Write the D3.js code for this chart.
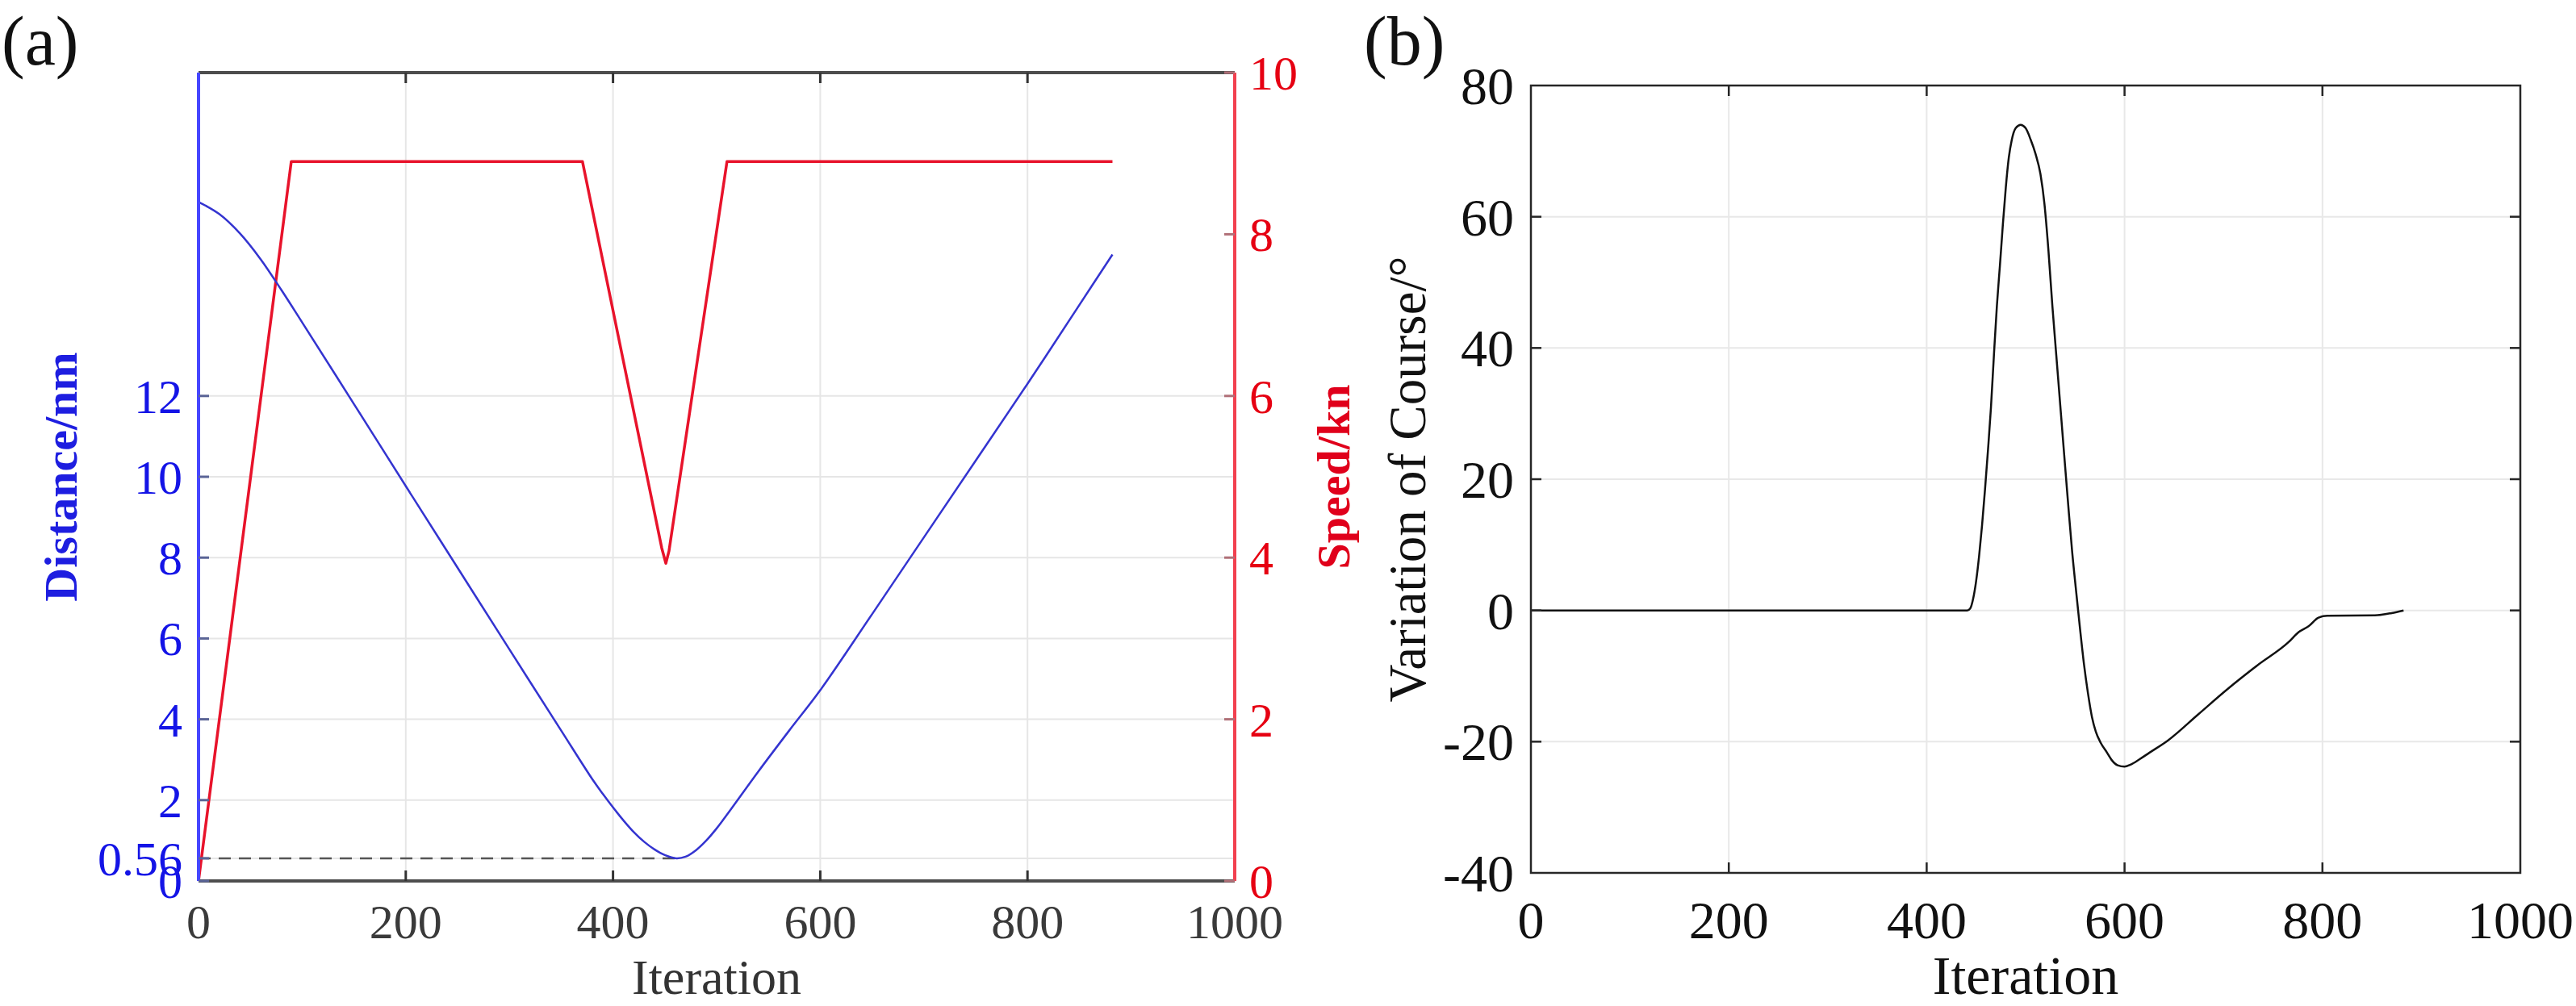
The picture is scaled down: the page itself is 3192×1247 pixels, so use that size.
<!DOCTYPE html>
<html>
<head>
<meta charset="utf-8">
<script src="https://cdn.jsdelivr.net/npm/d3@7"></script>
<style>
  body { margin: 0; background: #fff; }
  svg text { font-family: "Liberation Serif", "Times New Roman", serif; }
</style>
</head>
<body>
<svg id="fig" width="3192" height="1247"></svg>
<script>
// ---- panel (a) data ----
var distIter = [0, 20, 40, 60, 80, 100, 150, 200, 250, 300, 350, 380, 390, 400, 410, 420, 430, 440, 450, 461, 470, 480, 490, 500, 510, 540, 570, 600, 650, 700, 750, 800, 850, 882];
var distVal  = [16.8, 16.5, 16.02, 15.38, 14.62, 13.82, 11.8, 9.77, 7.75, 5.73, 3.72, 2.52, 2.16, 1.82, 1.5, 1.21, 0.97, 0.78, 0.64, 0.56, 0.6, 0.76, 1.0, 1.3, 1.64, 2.7, 3.72, 4.72, 6.6, 8.5, 10.4, 12.3, 14.25, 15.5];
var speedIter = [0, 89.5, 370.5, 447, 451, 454, 510, 882];
var speedVal  = [0, 8.9, 8.9, 4.12, 3.93, 4.08, 8.9, 8.9];
var minDist = 0.56;
var minDistIter = 461;
var distTicks = [0, 0.56, 2, 4, 6, 8, 10, 12];
var speedTicks = [0, 2, 4, 6, 8, 10];
var iterTicks = [0, 200, 400, 600, 800, 1000];

// ---- panel (b) data ----
var courseIter = [0, 200, 400, 441, 444, 447, 450, 453, 456, 459, 462, 465, 468, 471, 474, 477, 480, 483, 486, 490, 495, 500, 505, 510, 515, 519, 523, 527, 531, 535, 539, 543, 547, 551, 555, 559, 563, 567, 571, 576, 582, 587, 593, 600, 606, 615, 625, 644, 674, 704, 734, 766, 776, 786, 796, 805, 853, 870, 882];
var courseVal  = [0, 0, 0, 0, 0.3, 1.8, 4.5, 8.3, 13, 18.5, 24.5, 31, 39, 46.5, 52.5, 58.8, 64.5, 69, 71.7, 73.5, 74.0, 73.5, 71.8, 69.6, 66.5, 62, 55, 46.5, 38.9, 31.3, 23.7, 16.2, 9.0, 3.0, -2.8, -8.2, -12.6, -16.2, -18.5, -20.2, -21.6, -22.8, -23.6, -23.8, -23.5, -22.7, -21.7, -19.8, -15.9, -12.0, -8.4, -4.8, -3.3, -2.4, -1.1, -0.8, -0.75, -0.4, 0];
var courseTicks = [-40, -20, 0, 20, 40, 60, 80];

var svg = d3.select('#fig');
var tickLen = 13;

function zipPts(xs, ys) {
    return xs.map(function (d, i) { return [d, ys[i]]; });
}

// =================== panel (a) ===================
var A = {left: 246, right: 1530, top: 90, bottom: 1092};
var xa = d3.scaleLinear().domain([0, 1000]).range([A.left, A.right]);
var yDist = d3.scaleLinear().domain([0, 20]).range([A.bottom, A.top]);
var ySpeed = d3.scaleLinear().domain([0, 10]).range([A.bottom, A.top]);

var ga = svg.append('g').attr('class', 'panel-a');

// grid
ga.append('g').selectAll('line.vgrid')
    .data(iterTicks.slice(1, -1)).enter().append('line')
    .attr('x1', function (d) { return xa(d); }).attr('x2', function (d) { return xa(d); })
    .attr('y1', A.top).attr('y2', A.bottom)
    .style('stroke', '#e6e6e6').style('stroke-width', 2);
ga.append('g').selectAll('line.hgrid')
    .data(distTicks.slice(1)).enter().append('line')
    .attr('x1', A.left).attr('x2', A.right)
    .attr('y1', function (d) { return yDist(d); }).attr('y2', function (d) { return yDist(d); })
    .style('stroke', '#e6e6e6').style('stroke-width', 2);

// min distance dashed line
ga.append('line')
    .attr('x1', xa(0)).attr('x2', xa(minDistIter))
    .attr('y1', yDist(minDist)).attr('y2', yDist(minDist))
    .style('stroke', '#555').style('stroke-width', 2.5).style('stroke-dasharray', '15,10');

// curves
var distLine = d3.line().x(function (d) { return xa(d[0]); }).y(function (d) { return yDist(d[1]); }).curve(d3.curveCatmullRom.alpha(0.5));
var speedLine = d3.line().x(function (d) { return xa(d[0]); }).y(function (d) { return ySpeed(d[1]); });

ga.append('path').datum(zipPts(speedIter, speedVal)).attr('d', speedLine)
    .style('fill', 'none').style('stroke', '#e8132b').style('stroke-width', 3.5).style('stroke-linejoin', 'round');
ga.append('path').datum(zipPts(distIter, distVal)).attr('d', distLine)
    .style('fill', 'none').style('stroke', '#3434d0').style('stroke-width', 2.5);

// top / bottom box lines with inward ticks
ga.append('line').attr('x1', A.left).attr('x2', A.right).attr('y1', A.top).attr('y2', A.top)
    .style('stroke', '#4d4d4d').style('stroke-width', 4);
ga.append('line').attr('x1', A.left).attr('x2', A.right).attr('y1', A.bottom).attr('y2', A.bottom)
    .style('stroke', '#4d4d4d').style('stroke-width', 4);
iterTicks.slice(1, -1).forEach(function (t) {
    ga.append('line').attr('x1', xa(t)).attr('x2', xa(t)).attr('y1', A.top).attr('y2', A.top + tickLen)
        .style('stroke', '#333').style('stroke-width', 3);
    ga.append('line').attr('x1', xa(t)).attr('x2', xa(t)).attr('y1', A.bottom).attr('y2', A.bottom - tickLen)
        .style('stroke', '#333').style('stroke-width', 3);
});

// left (distance) axis
ga.append('line').attr('x1', A.left).attr('x2', A.left).attr('y1', A.top).attr('y2', A.bottom)
    .style('stroke', '#4646ff').style('stroke-width', 4);
ga.append('g').selectAll('line.ltick').data(distTicks).enter().append('line')
    .attr('x1', A.left).attr('x2', A.left + tickLen)
    .attr('y1', function (d) { return yDist(d); }).attr('y2', function (d) { return yDist(d); })
    .style('stroke', '#5a6496').style('stroke-width', 3);
ga.append('g').selectAll('text.ltick').data(distTicks).enter().append('text')
    .attr('x', A.left - 20).attr('y', function (d) { return yDist(d); })
    .attr('dy', '0.35em').attr('text-anchor', 'end')
    .style('font-size', '60px').style('fill', '#1414e6')
    .text(function (d) { return d; });

// right (speed) axis
ga.append('line').attr('x1', A.right).attr('x2', A.right).attr('y1', A.top).attr('y2', A.bottom)
    .style('stroke', '#f2404f').style('stroke-width', 4);
ga.append('g').selectAll('line.rtick').data(speedTicks).enter().append('line')
    .attr('x1', A.right).attr('x2', A.right - tickLen)
    .attr('y1', function (d) { return ySpeed(d); }).attr('y2', function (d) { return ySpeed(d); })
    .style('stroke', '#b07078').style('stroke-width', 3);
ga.append('g').selectAll('text.rtick').data(speedTicks).enter().append('text')
    .attr('x', A.right + 18).attr('y', function (d) { return ySpeed(d); })
    .attr('dy', '0.35em').attr('text-anchor', 'start')
    .style('font-size', '60px').style('fill', '#e60012')
    .text(function (d) { return d; });

// x tick labels
ga.append('g').selectAll('text.xtick').data(iterTicks).enter().append('text')
    .attr('x', function (d) { return xa(d); }).attr('y', 1163)
    .attr('text-anchor', 'middle')
    .style('font-size', '60px').style('fill', '#3a3a3a')
    .text(function (d) { return d; });

ga.append('text').attr('x', (A.left + A.right) / 2).attr('y', 1232)
    .attr('text-anchor', 'middle').style('font-size', '62px').style('fill', '#333')
    .text('Iteration');
ga.append('text').attr('transform', 'translate(95,' + ((A.top + A.bottom) / 2) + ') rotate(-90)')
    .attr('text-anchor', 'middle').style('font-size', '58px').style('font-weight', 'bold').style('fill', '#1e1ee0')
    .text('Distance/nm');
ga.append('text').attr('transform', 'translate(1672,' + ((A.top + A.bottom) / 2) + ') rotate(-90)')
    .attr('text-anchor', 'middle').style('font-size', '58px').style('font-weight', 'bold').style('fill', '#e0001b')
    .text('Speed/kn');
ga.append('text').attr('x', 2).attr('y', 80).style('font-size', '86px').style('fill', '#111').text('(a)');

// =================== panel (b) ===================
var B = {left: 1897, right: 3123, top: 106, bottom: 1082};
var xb = d3.scaleLinear().domain([0, 1000]).range([B.left, B.right]);
var yb = d3.scaleLinear().domain([-40, 80]).range([B.bottom, B.top]);

var gb = svg.append('g').attr('class', 'panel-b');

gb.append('g').selectAll('line.vgrid').data(iterTicks.slice(1, -1)).enter().append('line')
    .attr('x1', function (d) { return xb(d); }).attr('x2', function (d) { return xb(d); })
    .attr('y1', B.top).attr('y2', B.bottom)
    .style('stroke', '#e8e8e8').style('stroke-width', 2);
gb.append('g').selectAll('line.hgrid').data(courseTicks.slice(1, -1)).enter().append('line')
    .attr('x1', B.left).attr('x2', B.right)
    .attr('y1', function (d) { return yb(d); }).attr('y2', function (d) { return yb(d); })
    .style('stroke', '#e8e8e8').style('stroke-width', 2);

var courseLine = d3.line().x(function (d) { return xb(d[0]); }).y(function (d) { return yb(d[1]); }).curve(d3.curveMonotoneX);
gb.append('path').datum(zipPts(courseIter, courseVal)).attr('d', courseLine)
    .style('fill', 'none').style('stroke', '#111').style('stroke-width', 2.5);

// box + inward ticks
gb.append('rect').attr('x', B.left).attr('y', B.top).attr('width', B.right - B.left).attr('height', B.bottom - B.top)
    .style('fill', 'none').style('stroke', '#262626').style('stroke-width', 2.5);
iterTicks.slice(1, -1).forEach(function (t) {
    gb.append('line').attr('x1', xb(t)).attr('x2', xb(t)).attr('y1', B.bottom).attr('y2', B.bottom - tickLen)
        .style('stroke', '#262626').style('stroke-width', 2.5);
    gb.append('line').attr('x1', xb(t)).attr('x2', xb(t)).attr('y1', B.top).attr('y2', B.top + tickLen)
        .style('stroke', '#262626').style('stroke-width', 2.5);
});
courseTicks.slice(1, -1).forEach(function (t) {
    gb.append('line').attr('x1', B.left).attr('x2', B.left + tickLen).attr('y1', yb(t)).attr('y2', yb(t))
        .style('stroke', '#262626').style('stroke-width', 2.5);
    gb.append('line').attr('x1', B.right).attr('x2', B.right - tickLen).attr('y1', yb(t)).attr('y2', yb(t))
        .style('stroke', '#262626').style('stroke-width', 2.5);
});

gb.append('g').selectAll('text.ytick').data(courseTicks).enter().append('text')
    .attr('x', B.left - 21).attr('y', function (d) { return yb(d); })
    .attr('dy', '0.35em').attr('text-anchor', 'end')
    .style('font-size', '66px').style('fill', '#111')
    .text(function (d) { return d; });
gb.append('g').selectAll('text.xtick').data(iterTicks).enter().append('text')
    .attr('x', function (d) { return xb(d); }).attr('y', 1163)
    .attr('text-anchor', 'middle')
    .style('font-size', '66px').style('fill', '#111')
    .text(function (d) { return d; });

gb.append('text').attr('x', (B.left + B.right) / 2).attr('y', 1232)
    .attr('text-anchor', 'middle').style('font-size', '68px').style('fill', '#111')
    .text('Iteration');
gb.append('text').attr('transform', 'translate(1766,' + ((B.top + B.bottom) / 2) + ') rotate(-90)')
    .attr('text-anchor', 'middle').style('font-size', '65px').style('fill', '#111')
    .text('Variation of Course/°');
gb.append('text').attr('x', 1690).attr('y', 80).style('font-size', '86px').style('fill', '#111').text('(b)');
</script>
</body>
</html>
